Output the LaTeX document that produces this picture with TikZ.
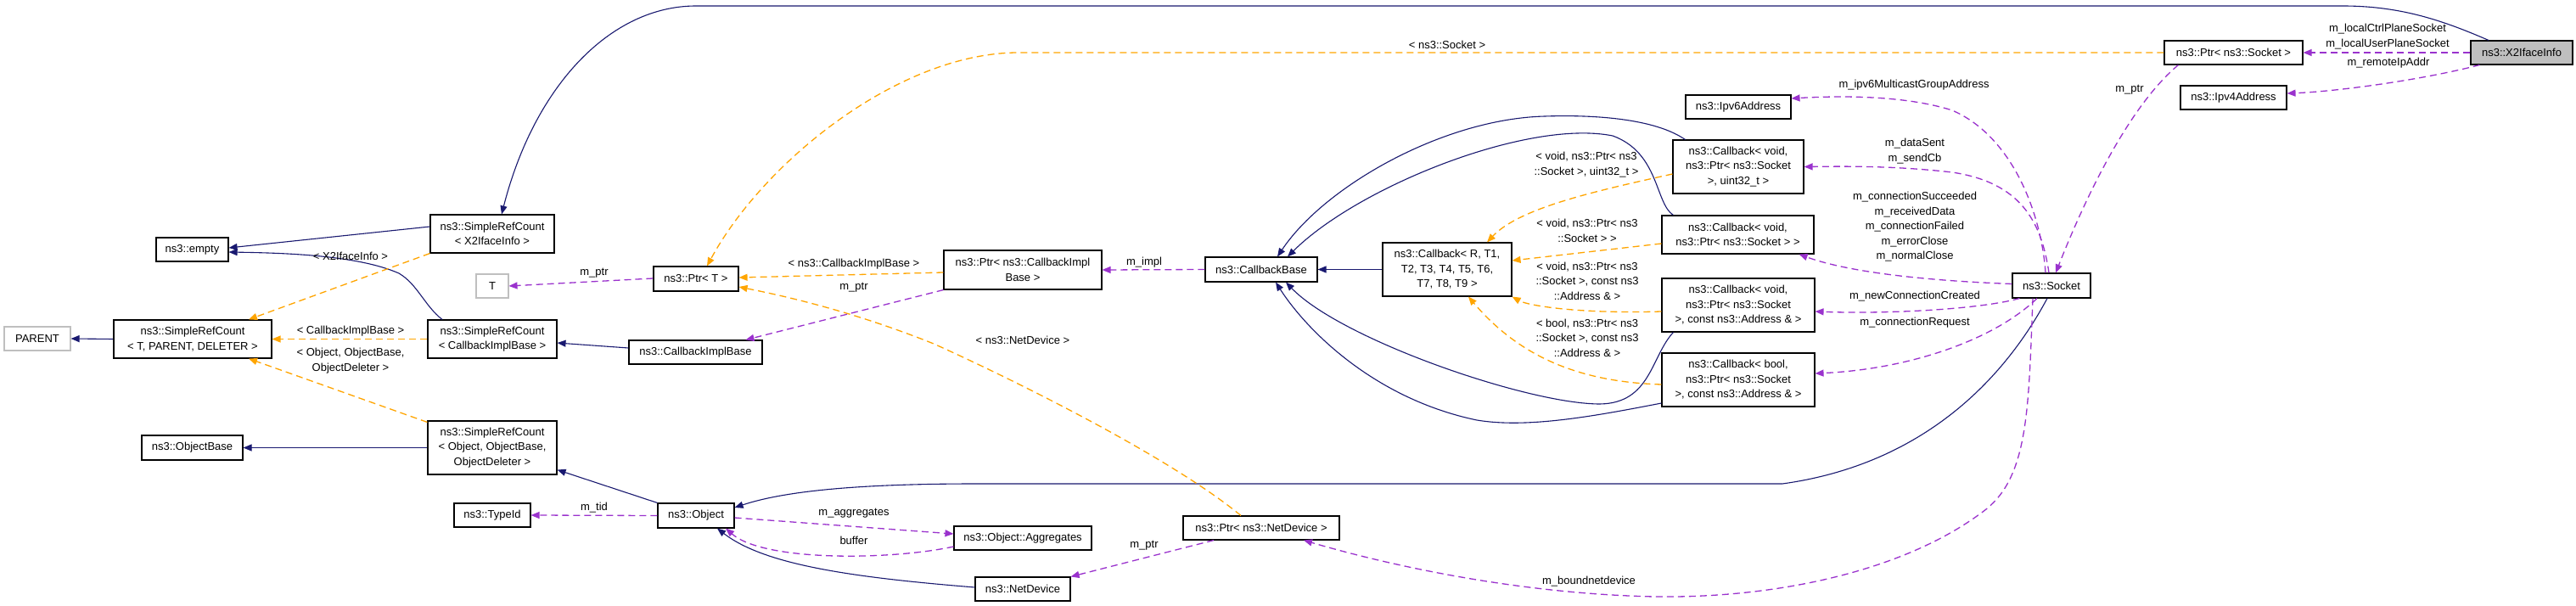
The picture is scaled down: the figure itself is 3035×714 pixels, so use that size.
\documentclass[tikz,border=0pt]{standalone}
\usepackage{fontspec}
\setmainfont{Liberation Sans}
\usetikzlibrary{arrows.meta}
\definecolor{inhcol}{HTML}{191970}
\definecolor{refcol}{HTML}{9A32CD}
\definecolor{tplcol}{HTML}{FFA500}
\definecolor{greycol}{HTML}{BFBFBF}
\begin{document}
\begin{tikzpicture}[x=1pt,y=-1pt,
  box/.style={draw=black, fill=white, line width=1.1pt, inner sep=0pt, align=center, font=\fontsize{13}{17.5}\selectfont},
  greybox/.style={box, draw=greycol},
  tipstyle/.style={-{Triangle[length=10pt,width=8pt]}},
  inh/.style={draw=inhcol, line width=1.1pt, tipstyle},
  refedge/.style={draw=refcol, line width=1.3pt, dash pattern=on 8pt off 5pt, tipstyle},
  tpledge/.style={draw=tplcol, line width=1.3pt, dash pattern=on 8pt off 5pt, tipstyle},
  lbl/.style={inner sep=0pt, align=center, font=\fontsize{13}{17.5}\selectfont}
]
\useasboundingbox (0,0) rectangle (3035,714);
\fill[white] (0,0) rectangle (3035,714);

% nodes
\node[greybox, minimum width=78pt, minimum height=28pt] (PARENT) at (44,399) {PARENT};
\node[box, minimum width=186pt, minimum height=45pt] (SRCTPD) at (227,399.5) {ns3::SimpleRefCount\\< T, PARENT, DELETER >};
\node[box, minimum width=85pt, minimum height=28pt] (empty) at (226.5,294) {ns3::empty};
\node[box, minimum width=119pt, minimum height=29pt] (ObjectBase) at (226.5,527.5) {ns3::ObjectBase};
\node[box, minimum width=146pt, minimum height=45pt] (SRCX2) at (580,275.5) {ns3::SimpleRefCount\\< X2IfaceInfo >};
\node[greybox, minimum width=38pt, minimum height=28pt] (T) at (580,337) {T};
\node[box, minimum width=152pt, minimum height=45pt] (SRCCIB) at (580,399.5) {ns3::SimpleRefCount\\< CallbackImplBase >};
\node[box, minimum width=152pt, minimum height=63pt] (SRCOBJ) at (580,527.5) {ns3::SimpleRefCount\\< Object, ObjectBase,\\ObjectDeleter >};
\node[box, minimum width=90pt, minimum height=28pt] (TypeId) at (580,607) {ns3::TypeId};
\node[box, minimum width=100pt, minimum height=29pt] (PtrT) at (820,328.5) {ns3::Ptr< T >};
\node[box, minimum width=157pt, minimum height=28pt] (CIB) at (819.5,415) {ns3::CallbackImplBase};
\node[box, minimum width=90pt, minimum height=29pt] (Object) at (820,607.5) {ns3::Object};
\node[box, minimum width=186pt, minimum height=46pt] (PtrCIB) at (1205,318) {ns3::Ptr< ns3::CallbackImpl\\Base >};
\node[box, minimum width=162pt, minimum height=28pt] (Aggr) at (1205,634) {ns3::Object::Aggregates};
\node[box, minimum width=112pt, minimum height=28pt] (NetDevice) at (1205,694) {ns3::NetDevice};
\node[box, minimum width=132pt, minimum height=29pt] (CBBase) at (1486,317.5) {ns3::CallbackBase};
\node[box, minimum width=184pt, minimum height=28pt] (PtrND) at (1486,622) {ns3::Ptr< ns3::NetDevice >};
\node[box, minimum width=152pt, minimum height=63pt] (CR) at (1705,317.5) {ns3::Callback< R, T1,\\T2, T3, T4, T5, T6,\\T7, T8, T9 >};
\node[box, minimum width=154pt, minimum height=63pt] (C1) at (2048,196.5) {ns3::Callback< void,\\ns3::Ptr< ns3::Socket\\>, uint32\_t >};
\node[box, minimum width=179pt, minimum height=45pt] (C2) at (2047.5,276.5) {ns3::Callback< void,\\ns3::Ptr< ns3::Socket > >};
\node[box, minimum width=180pt, minimum height=63pt] (C3) at (2048,359.5) {ns3::Callback< void,\\ns3::Ptr< ns3::Socket\\>, const ns3::Address \& >};
\node[box, minimum width=180pt, minimum height=63pt] (C4) at (2048,447.5) {ns3::Callback< bool,\\ns3::Ptr< ns3::Socket\\>, const ns3::Address \& >};
\node[box, minimum width=124pt, minimum height=28pt] (Ipv6) at (2048,126) {ns3::Ipv6Address};
\node[box, minimum width=92pt, minimum height=29pt] (Socket) at (2417,336.5) {ns3::Socket};
\node[box, minimum width=163pt, minimum height=28pt] (PtrSocket) at (2631.5,62) {ns3::Ptr< ns3::Socket >};
\node[box, minimum width=125pt, minimum height=28pt] (Ipv4) at (2631.5,115) {ns3::Ipv4Address};
\node[box, fill=greycol, minimum width=120pt, minimum height=28pt] (X2) at (2971,62) {ns3::X2IfaceInfo};

% inheritance edges
\draw[inh] (SRCTPD.west) -- (PARENT.east);
\draw[inh] ([yshift=8.5pt]SRCX2.west) -- ([yshift=2pt]empty.east);
\draw[inh] ([xshift=-59pt]SRCCIB.north) .. controls (500,360) and (492,335) .. (470,322) .. controls (420,300) and (330,298) .. ([yshift=-3pt]empty.east);
\draw[inh] (SRCOBJ.west) -- (ObjectBase.east);
\draw[inh] ([yshift=5pt]CIB.west) -- ([yshift=-4.5pt]SRCCIB.east);
\draw[inh] (Object.north west) -- ([yshift=6pt]SRCOBJ.south east);
\draw[inh] ([yshift=2pt]NetDevice.west) .. controls (1000,680) and (900,665) .. ([xshift=25pt]Object.south);
\draw[inh] ([xshift=-5pt]Socket.south) .. controls (2370,430) and (2280,545) .. (2100,570) -- (1150,570) .. controls (1000,570) and (920,580) .. ([yshift=9.5pt]Object.east);
\draw[inh] ([xshift=-39pt]X2.north) .. controls (2880,25) and (2830,7) .. (2760,7) -- (820,7) .. controls (720,7) and (630,100) .. ([xshift=11pt]SRCX2.north);
\draw[inh] (CR.west) -- (CBBase.east);
\draw[inh] ([xshift=15pt]C1.north west) .. controls (1950,140) and (1880,135) .. (1820,137) .. controls (1700,140) and (1560,220) .. ([xshift=19pt]CBBase.north);
\draw[inh] ([xshift=14pt]C2.north west) .. controls (1950,240) and (1955,180) .. (1900,160) .. controls (1800,140) and (1600,220) .. ([xshift=31pt]CBBase.north);
\draw[inh] ([xshift=14pt]C3.south west) .. controls (1945,420) and (1945,475) .. (1885,476) .. controls (1800,476) and (1580,400) .. ([xshift=29pt]CBBase.south);
\draw[inh] ([yshift=-27.5pt]C4.west) .. controls (1880,490) and (1800,505) .. (1740,495) .. controls (1620,470) and (1540,390) .. ([xshift=17pt]CBBase.south);

% template instantiation edges
\draw[tpledge] (SRCX2.south west) -- ([xshift=66pt]SRCTPD.north);
\draw[tpledge] (SRCCIB.west) -- (SRCTPD.east);
\draw[tpledge] ([yshift=-2pt]SRCOBJ.north west) -- ([xshift=66pt]SRCTPD.south);
\draw[tpledge] ([xshift=-24pt]PtrND.north) .. controls (1380,540) and (1200,450) .. (1100,405) .. controls (1000,365) and (920,348) .. ([yshift=-9.5pt]PtrT.east);
\draw[tpledge] ([yshift=-3pt]PtrCIB.west) -- ([yshift=1.5pt]PtrT.east);
\draw[tpledge] (PtrSocket.west) -- (1200,62) .. controls (1060,62) and (900,190) .. ([xshift=13pt]PtrT.north);
\draw[tpledge] ([yshift=-8.5pt]C1.west) .. controls (1880,225) and (1790,245) .. ([xshift=47pt]CR.north);
\draw[tpledge] ([yshift=-10.5pt]C2.west) -- ([yshift=10.5pt]CR.east);
\draw[tpledge] ([yshift=-7.5pt]C3.west) .. controls (1860,370) and (1800,360) .. (CR.south east);
\draw[tpledge] ([yshift=-5.5pt]C4.west) .. controls (1860,450) and (1790,420) .. ([xshift=25pt]CR.south);

% member reference edges
\draw[refedge] (X2.west) -- (PtrSocket.east);
\draw[refedge] ([xshift=11pt]X2.south west) .. controls (2850,95) and (2750,108) .. ([yshift=5pt]Ipv4.east);
\draw[refedge] ([xshift=17pt]PtrSocket.south west) .. controls (2520,115) and (2470,200) .. ([xshift=5pt]Socket.north);
\draw[refedge] ([xshift=-7pt]Socket.north) .. controls (2405,250) and (2370,160) .. (2300,130) .. controls (2250,114) and (2180,112) .. ([yshift=10pt]Ipv6.east);
\draw[refedge] ([xshift=-3pt]Socket.north) .. controls (2405,260) and (2380,215) .. (2300,203) .. controls (2230,195) and (2170,196) .. (C1.east);
\draw[refedge] ([yshift=2pt]Socket.west) .. controls (2250,330) and (2170,318) .. ([xshift=-18pt]C2.south east);
\draw[refedge] ([xshift=9pt]Socket.south west) .. controls (2330,365) and (2220,370) .. ([yshift=-7.5pt]C3.east);
\draw[refedge] ([xshift=-17pt]Socket.south) .. controls (2350,400) and (2250,435) .. ([yshift=7.5pt]C4.east);
\draw[refedge] ([xshift=-22pt]Socket.south) .. controls (2390,480) and (2390,560) .. (2340,600) .. controls (2250,670) and (2100,705) .. (1950,703) .. controls (1800,700) and (1650,670) .. ([xshift=50pt]PtrND.south);
\draw[refedge] ([xshift=-56pt]PtrND.south) -- (NetDevice.north east);
\draw[refedge] (CBBase.west) -- (PtrCIB.east);
\draw[refedge] (PtrCIB.south west) -- ([xshift=59pt]CIB.north);
\draw[refedge] ([yshift=0.5pt]PtrT.west) -- (T.east);
\draw[refedge] (Object.west) -- (TypeId.east);
\draw[refedge] ([yshift=-2.5pt]Object.east) -- ([yshift=5pt]Aggr.west);
\draw[refedge] ([yshift=-10pt]Aggr.west) .. controls (1050,660) and (900,662) .. ([xshift=35pt]Object.south);

% edge labels
\node[lbl] (l1) at (2813,43) {m\_localCtrlPlaneSocket\\m\_localUserPlaneSocket};
\node[lbl] (l2) at (2814,74) {m\_remoteIpAddr};
\node[lbl] (l3) at (2509,106) {m\_ptr};
\node[lbl] (l4) at (2255,100) {m\_ipv6MulticastGroupAddress};
\node[lbl] (l5) at (2256,178) {m\_dataSent\\m\_sendCb};
\node[lbl] (l6) at (2256,267.5) {m\_connectionSucceeded\\m\_receivedData\\m\_connectionFailed\\m\_errorClose\\m\_normalClose};
\node[lbl] (l7) at (2256,349) {m\_newConnectionCreated};
\node[lbl] (l8) at (2256,380) {m\_connectionRequest};
\node[lbl] (l9) at (1872,685) {m\_boundnetdevice};
\node[lbl] (l10) at (1348,643) {m\_ptr};
\node[lbl] (l11) at (1205,401) {< ns3::NetDevice >};
\node[lbl] (l12) at (1006,311) {< ns3::CallbackImplBase >};
\node[lbl] (l13) at (1006,339) {m\_ptr};
\node[lbl] (l14) at (1705,53) {< ns3::Socket >};
\node[lbl] (l15) at (1348,309) {m\_impl};
\node[lbl] (l16) at (700,322) {m\_ptr};
\node[lbl] (l17) at (700,598) {m\_tid};
\node[lbl] (l18) at (1006,605) {m\_aggregates};
\node[lbl] (l19) at (1006,637) {buffer};
\node[lbl] (l20) at (413,302) {< X2IfaceInfo >};
\node[lbl] (l21) at (413,390) {< CallbackImplBase >};
\node[lbl] (l22) at (413,425) {< Object, ObjectBase,\\ObjectDeleter >};
\node[lbl] (l23) at (1869,194) {< void, ns3::Ptr< ns3\\::Socket >, uint32\_t >};
\node[lbl] (l24) at (1870,272) {< void, ns3::Ptr< ns3\\::Socket > >};
\node[lbl] (l25) at (1870,331) {< void, ns3::Ptr< ns3\\::Socket >, const ns3\\::Address \& >};
\node[lbl] (l26) at (1870,398) {< bool, ns3::Ptr< ns3\\::Socket >, const ns3\\::Address \& >};
\end{tikzpicture}
\end{document}
